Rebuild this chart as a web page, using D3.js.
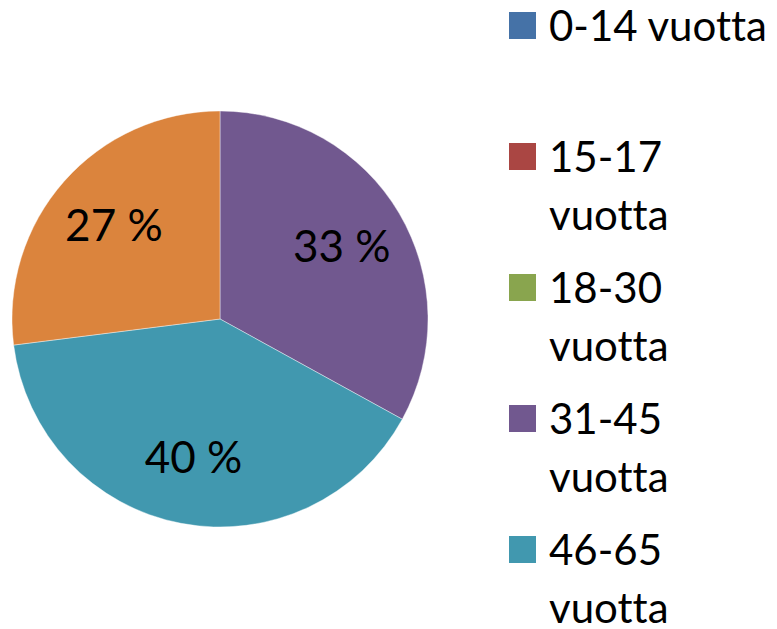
<!DOCTYPE html>
<html>
<head>
<meta charset="utf-8">
<script src="https://cdn.jsdelivr.net/npm/d3@7"></script>
<style>
	body { margin: 0; background: #fff; }
	svg { display: block; }
	text { font-family: Lato, "Liberation Sans", sans-serif; fill: #000; font-variant-ligatures: none; }
</style>
</head>
<body>
<svg id="chart" width="777" height="629"></svg>
<script>
	// age groups and their shares (%)
	var categories = ["0-14 vuotta", "15-17 vuotta", "18-30 vuotta", "31-45 vuotta", "46-65 vuotta", "yli 65 vuotta"];
	var shares = [0, 0, 0, 33, 40, 27];
	var colors = ["#4572A7", "#AA4643", "#89A54E", "#71588F", "#4198AF", "#DB843D"];

	var width = 777;
	var height = 629;
	var cx = 220, cy = 319;
	var radius = 208;
	var fontSize = 44;
	var legFontSize = 42;

	var svg = d3.select("#chart");

	var data = categories.map(function (c, i) {
		return {name: c, value: shares[i], color: colors[i]};
	});

	var pie = d3.pie()
		.sort(null)
		.value(function (d) { return d.value; });

	var arc = d3.arc().innerRadius(0).outerRadius(radius);
	var labelArc = d3.arc().innerRadius(radius * 0.68).outerRadius(radius * 0.68);

	var g = svg.append("g")
		.attr("transform", "translate(" + cx + "," + cy + ")");

	var arcs = pie(data).filter(function (d) { return d.data.value > 0; });

	g.selectAll(".slice")
		.data(arcs)
		.enter().append("path")
		.attr("class", "slice")
		.attr("d", arc)
		.style("fill", function (d) { return d.data.color; })
		.style("stroke", "#fff")
		.style("stroke-opacity", 0.5)
		.style("stroke-width", 0.8);

	g.selectAll(".lbl")
		.data(arcs)
		.enter().append("text")
		.attr("class", "lbl")
		.attr("transform", function (d) {
			var c = labelArc.centroid(d);
			return "translate(" + c[0] + "," + c[1] + ")";
		})
		.attr("text-anchor", "middle")
		.attr("dy", "0.35em")
		.style("font-size", fontSize + "px")
		.text(function (d) { return d.data.value + " %"; });

	// legend
	var legX = 509, textX = 549, legTop = 41, entryStep = 131, lineStep = 58;
	var maxW = width - textX - 2;

	var legend = svg.selectAll(".leg")
		.data(data)
		.enter().append("g")
		.attr("class", "leg")
		.attr("transform", function (d, i) {
			return "translate(0," + (legTop + i * entryStep) + ")";
		});

	legend.append("rect")
		.attr("x", legX)
		.attr("y", -29)
		.attr("width", 27)
		.attr("height", 27)
		.style("fill", function (d) { return d.color; });

	legend.each(function (d) {
		var t = d3.select(this).append("text")
			.attr("x", textX)
			.attr("y", 0)
			.style("font-size", legFontSize + "px")
			.text(d.name);
		if (t.node().getComputedTextLength() > maxW) {
			var words = d.name.split(" ");
			t.text(null);
			words.forEach(function (w, k) {
				t.append("tspan")
					.attr("x", textX)
					.attr("y", k * lineStep)
					.text(w);
			});
		}
	});
</script>
</body>
</html>
